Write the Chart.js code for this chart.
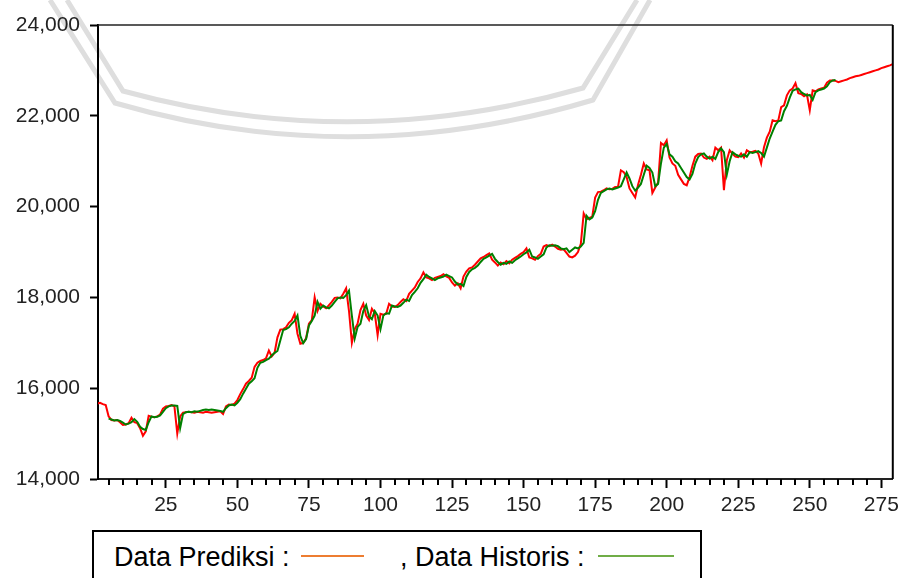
<!DOCTYPE html>
<html>
<head>
<meta charset="utf-8">
<script src="https://cdn.jsdelivr.net/npm/chart.js@4.4.1/dist/chart.umd.min.js"></script>
<style>
  html, body { margin: 0; padding: 0; background: #fff; }
  #wrap { position: relative; width: 904px; height: 578px; overflow: hidden; }
  #mark { position: absolute; left: 0; top: 0; }
  #chart { position: absolute; left: 0; top: 0; }
  #legendBox {
    position: absolute; left: 92px; top: 530px; width: 610px; height: 70px;
    border: 2px solid #000; box-sizing: border-box;
    font-family: "Liberation Sans", Arial, sans-serif; font-size: 27px; color: #000;
  }
  #legendBox span.t { position: absolute; top: 10px; white-space: nowrap; }
  #legendBox span.l { position: absolute; top: 23px; height: 2px; }
</style>
</head>
<body>
<div id="wrap">
  <svg id="mark" width="904" height="578">
    <path d="M 67 0 L 123 91 Q 352 154 583 88 L 637 0" fill="none" stroke="#dedede" stroke-width="5"/>
    <path d="M 50 0 L 115 103 Q 352 172 593 100 L 650 0" fill="none" stroke="#dedede" stroke-width="5"/>
  </svg>
  <canvas id="chart" width="904" height="530"></canvas>
  <div id="legendBox">
    <span class="t" style="left:20px">Data Prediksi :</span>
    <span class="l" style="left:207px;width:63px;background:#ed7d31"></span>
    <span class="t" style="left:306px">, Data Historis :</span>
    <span class="l" style="left:504px;width:76px;background:#70ad47"></span>
  </div>
</div>
<script>
// tick labels
const xTickValues = [25, 50, 75, 100, 125, 150, 175, 200, 225, 250, 275];
const yTickValues = [14000, 16000, 18000, 20000, 22000, 24000];

// Data Prediksi (red), index 1..279
const predValues = [
  15660, 15680, 15650, 15630, 15380, 15300, 15290, 15300, 15250, 15190,
  15200, 15230, 15350, 15250, 15230, 15120, 14950, 15050, 15390, 15370,
  15360, 15380, 15420, 15550, 15600, 15610, 15630, 15600, 15000, 15380,
  15460, 15470, 15480, 15470, 15460, 15480, 15470, 15460, 15480, 15470,
  15460, 15470, 15480, 15490, 15430, 15600, 15640, 15630, 15660, 15740,
  15870, 15980, 16100, 16160, 16230, 16470, 16560, 16600, 16620, 16660,
  16830, 16700, 16780, 17120, 17290, 17300, 17340, 17440, 17500, 17640,
  17200, 16980, 17000, 17100, 17420, 17500, 18000, 17700, 17860, 17800,
  17760, 17830, 17900, 17990, 18000, 17980, 18080, 18200, 17700, 17000,
  17300, 17420, 17720, 17860, 17600, 17500, 17750, 17650, 17170, 17640,
  17620, 17640, 17860, 17800, 17790, 17830, 17900, 17960, 17920, 18080,
  18150, 18220, 18340, 18420, 18550, 18440, 18420, 18380, 18430, 18450,
  18470, 18510, 18460, 18430, 18330, 18260, 18310, 18200, 18460, 18570,
  18640, 18660, 18720, 18790, 18860, 18890, 18930, 18970, 18830, 18770,
  18700, 18770, 18730, 18800, 18750, 18830, 18870, 18910, 18960, 19000,
  19080, 18880, 18860, 18830, 18910, 18960, 19120, 19150, 19130, 19160,
  19120, 19070, 19050, 19060, 18980, 18900, 18880, 18920, 19000, 19180,
  19850, 19720, 19750, 19780, 20200, 20320, 20330, 20360, 20400, 20380,
  20390, 20430, 20440, 20800, 20760, 20650, 20400, 20300, 20200, 20480,
  20700, 20950, 20820, 20800, 20300, 20420, 20530, 21400, 21350, 21460,
  21080, 20950, 20900, 20700, 20600, 20500, 20470, 20650, 20900, 21100,
  21160, 21170, 21080, 21050, 21100, 21020, 21300, 21240, 21300, 20360,
  21020, 21240, 21160, 21100, 21090, 21170, 21080, 21240, 21200, 21210,
  21230, 21170, 20950, 21310, 21520, 21650, 21900, 21880, 21900, 22190,
  22230, 22450, 22560, 22600, 22720, 22500, 22480, 22430, 22470, 22120,
  22560, 22540, 22580, 22600, 22620, 22730, 22780, 22780, 22770, 22740,
  22760, 22780, 22800, 22830, 22850, 22870, 22880, 22900, 22920, 22940,
  22960, 22980, 23000, 23020, 23050, 23070, 23090, 23110, 23140
];

// Data Historis (green), index 1..259
const histValues = [
  null, null, null, null, 15330, 15310, 15290, 15300, 15280, 15240,
  15200, 15220, 15250, 15320, 15260, 15150, 15100, 15080, 15250, 15380,
  15360, 15370, 15400, 15480, 15560, 15600, 15620, 15620, 15610, 15120,
  15430, 15470, 15480, 15470, 15490, 15480, 15500, 15520, 15530, 15520,
  15530, 15520, 15510, 15500, 15480, 15560, 15620, 15640, 15620, 15680,
  15760, 15880, 15990, 16100, 16150, 16220, 16450, 16560, 16580, 16620,
  16650, 16720, 16780, 16820, 17050, 17280, 17300, 17340, 17420, 17480,
  17600, 17150, 16990, 17080, 17380, 17480, 17600, 17900, 17750, 17820,
  17780, 17760, 17820, 17900, 17980, 18000, 17990, 18050, 18150, 17600,
  17100, 17350, 17420, 17700, 17830, 17580, 17520, 17700, 17600, 17300,
  17600, 17650, 17640, 17820, 17800, 17790, 17820, 17880, 17950, 17920,
  18050, 18120, 18200, 18320, 18400, 18500, 18450, 18420, 18380, 18420,
  18440, 18460, 18500, 18470, 18440, 18350, 18280, 18300, 18250, 18450,
  18560, 18620, 18650, 18700, 18780, 18850, 18880, 18920, 18960, 18850,
  18780, 18720, 18760, 18740, 18790, 18760, 18820, 18860, 18900, 18950,
  18990, 19050, 18900, 18880, 18850, 18900, 18950, 19100, 19150, 19140,
  19150, 19130, 19080, 19060, 19080, 19000, 19050, 19100, 19080, 19120,
  19200, 19800, 19720, 19760, 19900, 20150, 20300, 20340, 20380, 20400,
  20380, 20400, 20420, 20450, 20600, 20750, 20620, 20450, 20350, 20420,
  20500, 20700, 20900, 20850, 20750, 20450, 20500, 20950, 21300, 21380,
  21150, 21100, 21000, 20950, 20850, 20750, 20650, 20600, 20720, 20950,
  21090, 21150, 21170, 21100, 21060, 21100, 21050, 21200, 21280, 21200,
  20700, 21000, 21200, 21150, 21120, 21100, 21150, 21100, 21200, 21180,
  21200, 21220, 21180, 21100, 21300, 21500, 21650, 21800, 21880, 21900,
  22100, 22220, 22400, 22550, 22580, 22600, 22520, 22480, 22450, 22460,
  22350, 22520, 22560, 22580, 22600, 22650, 22740, 22780, 22790
];

const toPoints = arr => arr.map((v, k) => ({ x: k + 1, y: v }));

const labelFont = { family: "'Liberation Sans', Arial, sans-serif", size: 21 };

// frame on top/right + short minor ticks every 5 on the x axis
const framePlugin = {
  id: "frame",
  afterDraw(chart) {
    const { ctx, chartArea } = chart;
    const x = chart.scales.x;
    ctx.save();
    ctx.strokeStyle = "#222";
    ctx.lineWidth = 1.5;
    ctx.beginPath();
    ctx.moveTo(chartArea.left, chartArea.top);
    ctx.lineTo(chartArea.right, chartArea.top);
    ctx.stroke();
    ctx.strokeStyle = "#000";
    ctx.lineWidth = 2;
    ctx.beginPath();
    ctx.moveTo(chartArea.right, chartArea.top);
    ctx.lineTo(chartArea.right, chartArea.bottom);
    ctx.stroke();
    for (let v = 5; v < x.max; v += 5) {
      if (v % 25 === 0) continue;
      const px = Math.round(x.getPixelForValue(v));
      ctx.beginPath();
      ctx.moveTo(px, chartArea.bottom);
      ctx.lineTo(px, chartArea.bottom + 6);
      ctx.stroke();
    }
    ctx.restore();
  }
};

new Chart(document.getElementById("chart"), {
  type: "line",
  data: {
    datasets: [
      {
        label: "Data Historis",
        data: toPoints(histValues),
        borderColor: "#008000",
        borderWidth: 2,
        pointRadius: 0,
        tension: 0,
        order: 0
      },
      {
        label: "Data Prediksi",
        data: toPoints(predValues),
        borderColor: "#ff0000",
        borderWidth: 2,
        pointRadius: 0,
        tension: 0,
        order: 1
      }
    ]
  },
  options: {
    responsive: false,
    animation: false,
    layout: { padding: { top: 25, right: 10, left: 0, bottom: 0 } },
    plugins: {
      legend: { display: false },
      tooltip: { enabled: false }
    },
    scales: {
      x: {
        type: "linear",
        min: 1.3,
        max: 279,
        afterBuildTicks: scale => { scale.ticks = xTickValues.map(v => ({ value: v })); },
        afterFit: scale => { scale.height = 51; },
        grid: { drawOnChartArea: false, tickLength: 9, tickWidth: 2, tickColor: "#000" },
        border: { display: true, color: "#222", width: 2 },
        ticks: { color: "#222", font: labelFont, padding: 5, maxRotation: 0, autoSkip: false }
      },
      y: {
        min: 14000,
        max: 24000,
        afterBuildTicks: scale => { scale.ticks = yTickValues.map(v => ({ value: v })); },
        afterFit: scale => { scale.width = 98; },
        grid: { drawOnChartArea: false, tickLength: 8, tickWidth: 2, tickColor: "#000" },
        border: { display: true, color: "#000", width: 2 },
        ticks: {
          color: "#222",
          font: labelFont,
          padding: 10,
          callback: v => v.toLocaleString("en-US")
        }
      }
    }
  },
  plugins: [framePlugin]
});
</script>
</body>
</html>
